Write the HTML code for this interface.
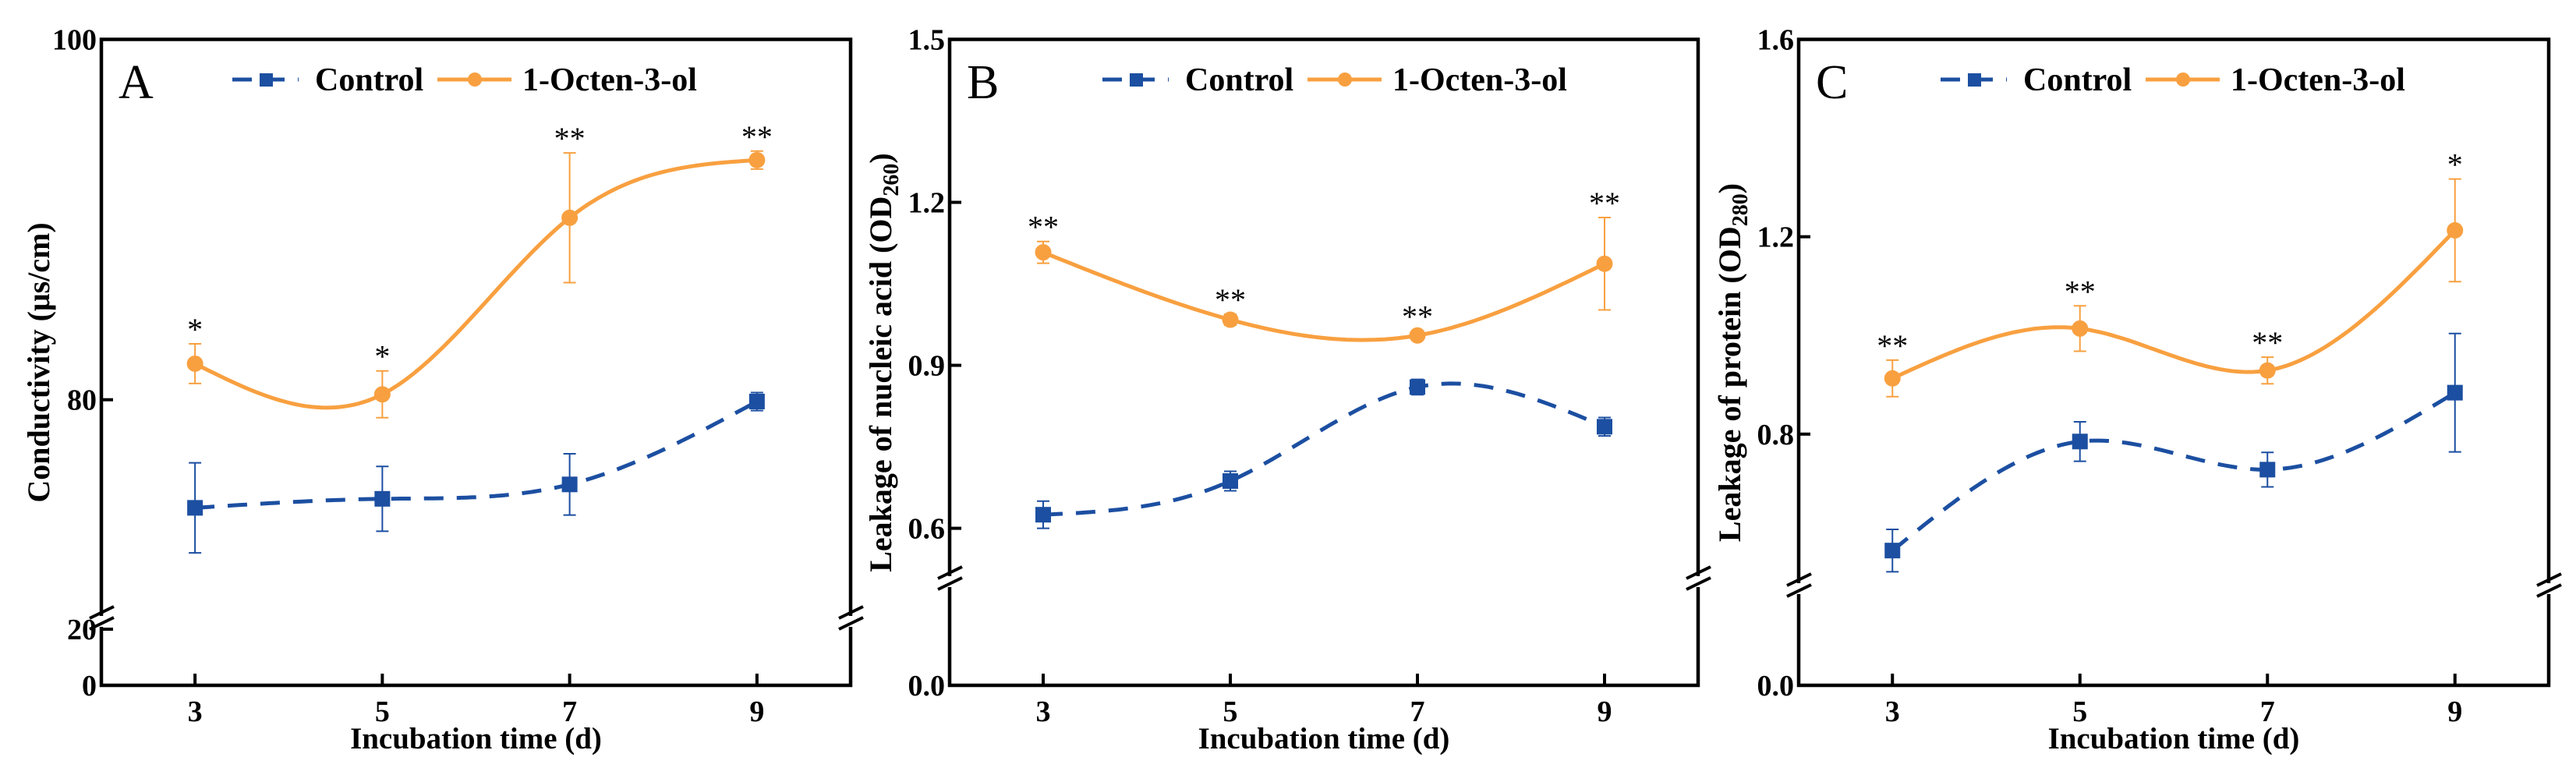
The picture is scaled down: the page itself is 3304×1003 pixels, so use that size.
<!DOCTYPE html>
<html><head><meta charset="utf-8"><style>
html,body{margin:0;padding:0;background:#fff;}
svg{display:block;font-family:"Liberation Serif",serif;}
</style></head><body>
<svg id="fig" width="3304" height="1003" viewBox="0 0 3304 1003" xmlns="http://www.w3.org/2000/svg"></svg>
<script>
// Shared data
const days = [3, 5, 7, 9];
const xTickLabels = ["3", "5", "7", "9"];
// Panel A: conductivity
const aControl = [74.0, 74.5, 75.3, 79.9];
const aControlErr = [2.5, 1.8, 1.7, 0.5];
const aOcten = [82.0, 80.3, 90.1, 93.3];
const aOctenErr = [1.1, 1.3, 3.6, 0.5];
const aStars = ["*", "*", "**", "**"];
// Panel B: nucleic acid
const bControl = [0.625, 0.687, 0.860, 0.787];
const bControlErr = [0.025, 0.018, 0.014, 0.017];
const bOcten = [1.108, 0.984, 0.955, 1.087];
const bOctenErr = [0.02, 0.01, 0.008, 0.085];
const bStars = ["**", "**", "**", "**"];
// Panel C: protein
const cControl = [0.564, 0.785, 0.728, 0.884];
const cControlErr = [0.043, 0.04, 0.035, 0.12];
const cOcten = [0.913, 1.014, 0.929, 1.213];
const cOctenErr = [0.037, 0.046, 0.027, 0.104];
const cStars = ["**", "**", "**", "*"];

const BLUE = "#1c4fa1", ORANGE = "#f8a040";
const NS = "http://www.w3.org/2000/svg";
const svg = document.getElementById("fig");
function mk(tag, attrs, parent, text) {
  const e = document.createElementNS(NS, tag);
  for (const k in attrs) e.setAttribute(k, attrs[k]);
  if (text !== undefined) e.textContent = text;
  (parent || svg).appendChild(e);
  return e;
}
function spline(xs, ys) {
  const n = xs.length, h = [], al = [], l = [1], mu = [0], z = [0], c = new Array(n).fill(0), b = [], d = [];
  for (let i = 0; i < n - 1; i++) h.push(xs[i + 1] - xs[i]);
  for (let i = 1; i < n - 1; i++) al[i] = 3 / h[i] * (ys[i + 1] - ys[i]) - 3 / h[i - 1] * (ys[i] - ys[i - 1]);
  for (let i = 1; i < n - 1; i++) { l[i] = 2 * (xs[i + 1] - xs[i - 1]) - h[i - 1] * mu[i - 1]; mu[i] = h[i] / l[i]; z[i] = (al[i] - h[i - 1] * z[i - 1]) / l[i]; }
  for (let j = n - 2; j >= 0; j--) { c[j] = (z[j] || 0) - mu[j] * c[j + 1]; b[j] = (ys[j + 1] - ys[j]) / h[j] - h[j] * (c[j + 1] + 2 * c[j]) / 3; d[j] = (c[j + 1] - c[j]) / (3 * h[j]); }
  return function (x) { let j = 0; while (j < n - 2 && x > xs[j + 1]) j++; const t = x - xs[j]; return ys[j] + b[j] * t + c[j] * t * t + d[j] * t * t * t; };
}

const TOP = 50.5, BOT = 879;
const panels = [
  {id:"a", L:130, R:1091, letter:"A", top:[100,80], topY:[TOP,512.7], topTicks:[100,80], tickFmt:v=>String(v), lowTicks:[{y:807,t:"20"},{y:BOT,t:"0"}],
   brk:797, ctrl:aControl, ctrlE:aControlErr, oct:aOcten, octE:aOctenErr, stars:aStars,
   ytitle:"Conductivity (μs/cm)", sub:"", yTitleX:49, legX:298},
  {id:"b", L:1218, R:2178, letter:"B", top:[1.5,0.6], topY:[TOP,677.6], topTicks:[1.5,1.2,0.9,0.6], tickFmt:v=>v.toFixed(1), lowTicks:[{y:BOT,t:"0.0"}],
   brk:746, ctrl:bControl, ctrlE:bControlErr, oct:bOcten, octE:bOctenErr, stars:bStars,
   ytitle:"Leakage of nucleic acid (OD", sub:"260", yTitleX:1129, legX:1414},
  {id:"c", L:2307, R:3269, letter:"C", top:[1.6,0.8], topY:[TOP,556.8], topTicks:[1.6,1.2,0.8], tickFmt:v=>v.toFixed(1), lowTicks:[{y:BOT,t:"0.0"}],
   brk:755, ctrl:cControl, ctrlE:cControlErr, oct:cOcten, octE:cOctenErr, stars:cStars,
   ytitle:"Leakage of protein (OD", sub:"280", yTitleX:2218, legX:2489}
];

panels.forEach(p => {
  const g = mk("g", {});
  
  
  const yScale = v => p.topY[0] + (p.top[0] - v) * (p.topY[1] - p.topY[0]) / (p.top[0] - p.top[1]);
  const xScale = d => p.L + (d - 2) * (p.R - p.L) / 8;

  const fr = mk("rect", {x:p.L, y:TOP, width:p.R - p.L, height:BOT - TOP, fill:"none", stroke:"#000", "stroke-width":4.5}, g);
  
  
  [p.L, p.R].forEach((bx, i) => {
    const bg = mk("g", {}, g);
    
    
    mk("rect", {x:bx - 5, y:p.brk - 7, width:10, height:14, fill:"#fff"}, bg);
    mk("line", {x1:bx - 15, y1:p.brk - 4, x2:bx + 16, y2:p.brk - 19, stroke:"#000", "stroke-width":4}, bg);
    mk("line", {x1:bx - 15, y1:p.brk + 10, x2:bx + 16, y2:p.brk - 5, stroke:"#000", "stroke-width":4}, bg);
  });
  p.topTicks.forEach(v => {
    const y = yScale(v);
    const t = mk("line", {x1:p.L, y1:y, x2:p.L + 15, y2:y, stroke:"#000", "stroke-width":4}, g);
    
    
    const tl = mk("text", {x:p.L - 6, y:y + 13, "text-anchor":"end", "font-size":38, "font-weight":"bold"}, g, p.tickFmt(v));
    
    
  });
  p.lowTicks.forEach(o => {
    if (o.y < BOT) mk("line", {x1:p.L, y1:o.y, x2:p.L + 15, y2:o.y, stroke:"#000", "stroke-width":4}, g);
    const tl = mk("text", {x:p.L - 6, y:o.y + 13, "text-anchor":"end", "font-size":38, "font-weight":"bold"}, g, o.t);
    
    
  });
  days.forEach((d, i) => {
    const x = xScale(d);
    const t = mk("line", {x1:x, y1:BOT, x2:x, y2:BOT - 15, stroke:"#000", "stroke-width":4}, g);
    
    
    const tl = mk("text", {x:x, y:925, "text-anchor":"middle", "font-size":38, "font-weight":"bold"}, g, xTickLabels[i]);
    
    
  });
  const xt = mk("text", {x:(p.L + p.R) / 2, y:960, "text-anchor":"middle", "font-size":39, "font-weight":"bold"}, g, "Incubation time (d)");
  
  
  const yt = mk("text", {transform:`translate(${p.yTitleX + 14},465) rotate(-90)`, "text-anchor":"middle", "font-size":40, "font-weight":"bold"}, g);
  
  
  mk("tspan", {}, yt, p.ytitle);
  if (p.sub) { mk("tspan", {"font-size":28, dy:9}, yt, p.sub); mk("tspan", {dy:-9}, yt, ")"); }
  const pl = mk("text", {x:p.L + 22, y:126, "font-size":62}, g, p.letter);
  
  

  [[p.ctrl, p.ctrlE, BLUE, "control"], [p.oct, p.octE, ORANGE, "octenol"]].forEach(([vals, errs, col, nm]) => {
    const sg = mk("g", {}, g);
    
    
    const f = spline(days, vals);
    let dstr = "";
    for (let k = 0; k <= 120; k++) { const d = 3 + 6 * k / 120; dstr += (k ? "L" : "M") + xScale(d).toFixed(1) + "," + yScale(f(d)).toFixed(1); }
    const ln = mk("path", {d:dstr, fill:"none", stroke:col, "stroke-width":5, "stroke-dasharray":nm === "control" ? "25 17" : "none"}, sg);
    
    
    days.forEach((d, i) => {
      const x = xScale(d), y = yScale(vals[i]), y1 = yScale(vals[i] + errs[i]), y2 = yScale(vals[i] - errs[i]);
      const eb = mk("path", {d:`M${x},${y1}V${y2}M${x - 8},${y1}H${x + 8}M${x - 8},${y2}H${x + 8}`, stroke:col, "stroke-width":2, fill:"none"}, sg);
      
      
      let m;
      if (nm === "control") m = mk("rect", {x:x - 10, y:y - 10, width:20, height:20, fill:col}, sg);
      else m = mk("circle", {cx:x, cy:y, r:10.5, fill:col}, sg);
      
      
      if (nm === "octenol") {
        const st = mk("text", {x:x, y:y1 - 5, "text-anchor":"middle", "font-size":40}, sg, p.stars[i]);
        
        
      }
    });
  });
  const lg = mk("g", {}, g);
  
  
  const ly = 102, lx = p.legX;
  const l1 = mk("g", {}, lg);
  
  
  mk("line", {x1:lx, y1:ly, x2:lx + 85, y2:ly, stroke:BLUE, "stroke-width":5, "stroke-dasharray":"25 17"}, l1);
  mk("rect", {x:lx + 35, y:ly - 8, width:17, height:17, fill:BLUE}, l1);
  mk("text", {x:lx + 106, y:ly + 14, "font-size":42, "font-weight":"bold"}, l1, "Control");
  const l2 = mk("g", {}, lg);
  
  
  mk("line", {x1:lx + 263, y1:ly, x2:lx + 358, y2:ly, stroke:ORANGE, "stroke-width":5}, l2);
  mk("circle", {cx:lx + 311, cy:ly, r:9, fill:ORANGE}, l2);
  mk("text", {x:lx + 372, y:ly + 14, "font-size":42, "font-weight":"bold"}, l2, "1-Octen-3-ol");
});
</script>
</body></html>
